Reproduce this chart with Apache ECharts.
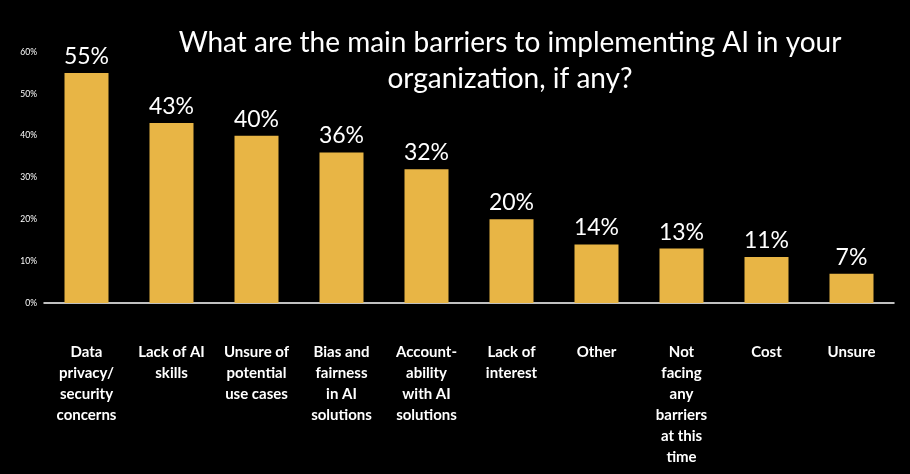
<!DOCTYPE html>
<html lang="en">
<head>
    <meta charset="UTF-8">
    <title>AI barriers</title>
    <script src="https://cdn.jsdelivr.net/npm/echarts@6/dist/echarts.min.js"></script>
    <style>
        html, body { margin: 0; padding: 0; background: #000; }
        #main { width: 910px; height: 474px; }
    </style>
</head>
<body>
    <div id="main"></div>
    <script type="text/javascript">
        // data
        var categories = [
            'Data\nprivacy/\nsecurity\nconcerns',
            'Lack of AI\nskills',
            'Unsure of\npotential\nuse cases',
            'Bias and\nfairness\nin AI\nsolutions',
            'Account-\nability\nwith AI\nsolutions',
            'Lack of\ninterest',
            'Other',
            'Not\nfacing\nany\nbarriers\nat this\ntime',
            'Cost',
            'Unsure'
        ];
        var shares = [55, 43, 40, 36, 32, 20, 14, 13, 11, 7];
        var yTicks = [0, 10, 20, 30, 40, 50, 60];

        var titleText = 'What are the main barriers to implementing AI in your\norganization, if any?';

        var myChart = echarts.init(document.getElementById('main'));

        var option = {
            backgroundColor: '#000000',
            textStyle: { fontFamily: 'Lato' },
            graphic: [{
                type: 'text',
                x: 510,
                y: 25,
                style: {
                    text: titleText,
                    fill: '#ffffff',
                    font: '28px Lato',
                    textAlign: 'center',
                    lineHeight: 36
                }
            }],
            grid: {
                left: 44,
                right: 16,
                top: 52,
                bottom: 171
            },
            xAxis: {
                type: 'category',
                data: categories,
                offset: 17,
                axisLine: { lineStyle: { color: '#ffffff', width: 1.5 } },
                axisTick: { show: false },
                axisLabel: {
                    color: '#ffffff',
                    fontWeight: 'bold',
                    fontSize: 15,
                    lineHeight: 21,
                    margin: 22,
                    interval: 0
                }
            },
            yAxis: {
                type: 'value',
                min: yTicks[0],
                max: yTicks[yTicks.length - 1],
                interval: 10,
                axisLine: { show: false },
                axisTick: { show: false },
                splitLine: { show: false },
                axisLabel: {
                    color: '#ffffff',
                    fontSize: 8.5,
                    margin: 7,
                    formatter: '{value}%'
                }
            },
            series: [{
                type: 'bar',
                data: shares,
                barWidth: 44,
                itemStyle: { color: '#E8B545' },
                label: {
                    show: true,
                    position: 'top',
                    distance: 5,
                    color: '#ffffff',
                    fontSize: 23,
                    formatter: '{c}%'
                }
            }]
        };
        myChart.setOption(option);
    </script>
</body>
</html>
